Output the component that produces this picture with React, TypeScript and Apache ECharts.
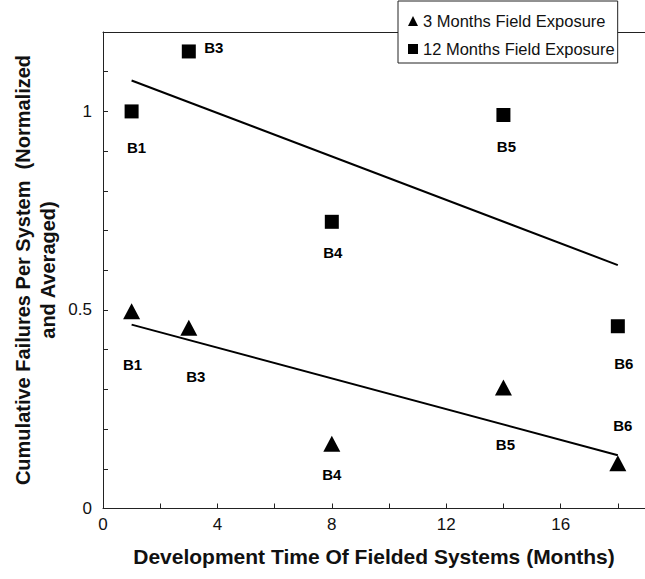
import React, { useEffect, useRef } from "react";
import * as echarts from "echarts";

const seriesNames = ["3 Months Field Exposure", "12 Months Field Exposure"];
const pointLabels = ["B1", "B3", "B4", "B5", "B6"];
const devTime = [1, 3, 8, 14, 18];
const failures3 = [0.497, 0.455, 0.163, 0.305, 0.114];
const failures12 = [1.0, 1.151, 0.722, 0.991, 0.459];
const trend3 = [
  [1, 0.463],
  [18, 0.134],
];
const trend12 = [
  [1, 1.078],
  [18, 0.613],
];
const yTickLabels = ["0", "0.5", "1"];
const xTickLabels = ["0", "4", "8", "12", "16"];

const FONT = "'Liberation Sans', Arial, Helvetica, sans-serif";

const labelOffsets3 = [
  [1, 53],
  [7, 49],
  [0, 31],
  [2, 57],
  [5, -38],
];
const labelOffsets12 = [
  [5, 36],
  [25, -4],
  [1, 31],
  [3, 32],
  [6, 37],
];

export default function App() {
  const ref = useRef<HTMLDivElement>(null);
  useEffect(() => {
    document.body.style.margin = "0";
    const chart = echarts.init(ref.current!, undefined, { renderer: "svg" });
    const mkData = (ys: number[], offs: number[][]) =>
      devTime.map((x, i) => ({
        value: [x, ys[i]],
        name: pointLabels[i],
        label: { offset: offs[i] },
      }));
    const pointLabel = {
      show: true,
      position: "inside",
      formatter: (p: any) => p.name,
      color: "#000",
      fontFamily: FONT,
      fontWeight: "bold",
      fontSize: 15,
    };
    chart.setOption({
      animation: false,
      backgroundColor: "#fff",
      grid: { left: 103, right: 0, top: 32, bottom: 70.5 },
      legend: {
        left: 398,
        top: 1,
        orient: "vertical",
        backgroundColor: "#fff",
        borderColor: "#222",
        borderWidth: 1,
        borderRadius: 0,
        padding: [10, 3, 4, 10],
        itemWidth: 10,
        itemHeight: 10,
        itemGap: 8,
        textStyle: { fontFamily: FONT, fontSize: 16.5, color: "#111", lineHeight: 20 },
        data: [
          { name: seriesNames[0], icon: "triangle" },
          { name: seriesNames[1], icon: "rect" },
        ],
      },
      xAxis: [
        {
          type: "value",
          min: 0,
          max: 18.95,
          interval: 2,
          axisLine: { show: true, lineStyle: { color: "#222", width: 1 } },
          axisTick: { show: true, inside: true, length: 5, lineStyle: { color: "#222" } },
          splitLine: { show: false },
          axisLabel: {
            margin: 7,
            color: "#111",
            fontFamily: FONT,
            fontSize: 17,
            showMaxLabel: false,
            formatter: (v: number) => {
              const s = String(Math.round(v));
              return xTickLabels.includes(s) && Math.abs(v - Math.round(v)) < 1e-6 ? s : "";
            },
          },
        },
        {
          type: "value",
          position: "top",
          min: 0,
          max: 18.95,
          axisLine: { show: true, onZero: false, lineStyle: { color: "#222", width: 1 } },
          axisTick: { show: false },
          axisLabel: { show: false },
          splitLine: { show: false },
        },
      ],
      yAxis: {
        type: "value",
        min: 0,
        max: 1.2,
        interval: 0.1,
        axisLine: { show: true, lineStyle: { color: "#222", width: 1 } },
        axisTick: { show: true, inside: true, length: 5, lineStyle: { color: "#222" } },
        splitLine: { show: false },
        axisLabel: {
          margin: 11,
          color: "#111",
          fontFamily: FONT,
          fontSize: 17,
          formatter: (v: number) => {
            const r = Math.round(v * 10);
            if (r === 0) return yTickLabels[0];
            if (r === 5) return yTickLabels[1];
            if (r === 10) return yTickLabels[2];
            return "";
          },
        },
      },
      graphic: [
        {
          type: "text",
          x: 35,
          y: 270,
          rotation: Math.PI / 2,
          style: {
            text: "Cumulative Failures Per System  (Normalized\nand Averaged)",
            textAlign: "center",
            textVerticalAlign: "middle",
            font: `bold 20px ${FONT}`,
            lineHeight: 25,
            fill: "#111",
          },
        },
        {
          type: "text",
          x: 374,
          y: 556,
          style: {
            text: "Development Time Of Fielded Systems (Months)",
            textAlign: "center",
            textVerticalAlign: "middle",
            font: `bold 21px ${FONT}`,
            fill: "#111",
          },
        },
      ],
      series: [
        {
          name: seriesNames[0],
          type: "scatter",
          symbol: "triangle",
          symbolSize: [17, 16],
          itemStyle: { color: "#000", opacity: 1 },
          data: mkData(failures3, labelOffsets3),
          label: pointLabel,
          z: 3,
        },
        {
          name: seriesNames[1],
          type: "scatter",
          symbol: "rect",
          symbolSize: 14,
          itemStyle: { color: "#000", opacity: 1 },
          data: mkData(failures12, labelOffsets12),
          label: pointLabel,
          z: 3,
        },
        {
          name: "trend3",
          type: "line",
          data: trend3,
          symbol: "none",
          lineStyle: { color: "#000", width: 2 },
          z: 2,
        },
        {
          name: "trend12",
          type: "line",
          data: trend12,
          symbol: "none",
          lineStyle: { color: "#000", width: 2 },
          z: 2,
        },
      ],
    });
    return () => chart.dispose();
  }, []);
  return <div ref={ref} style={{ width: 645, height: 579 }} />;
}
